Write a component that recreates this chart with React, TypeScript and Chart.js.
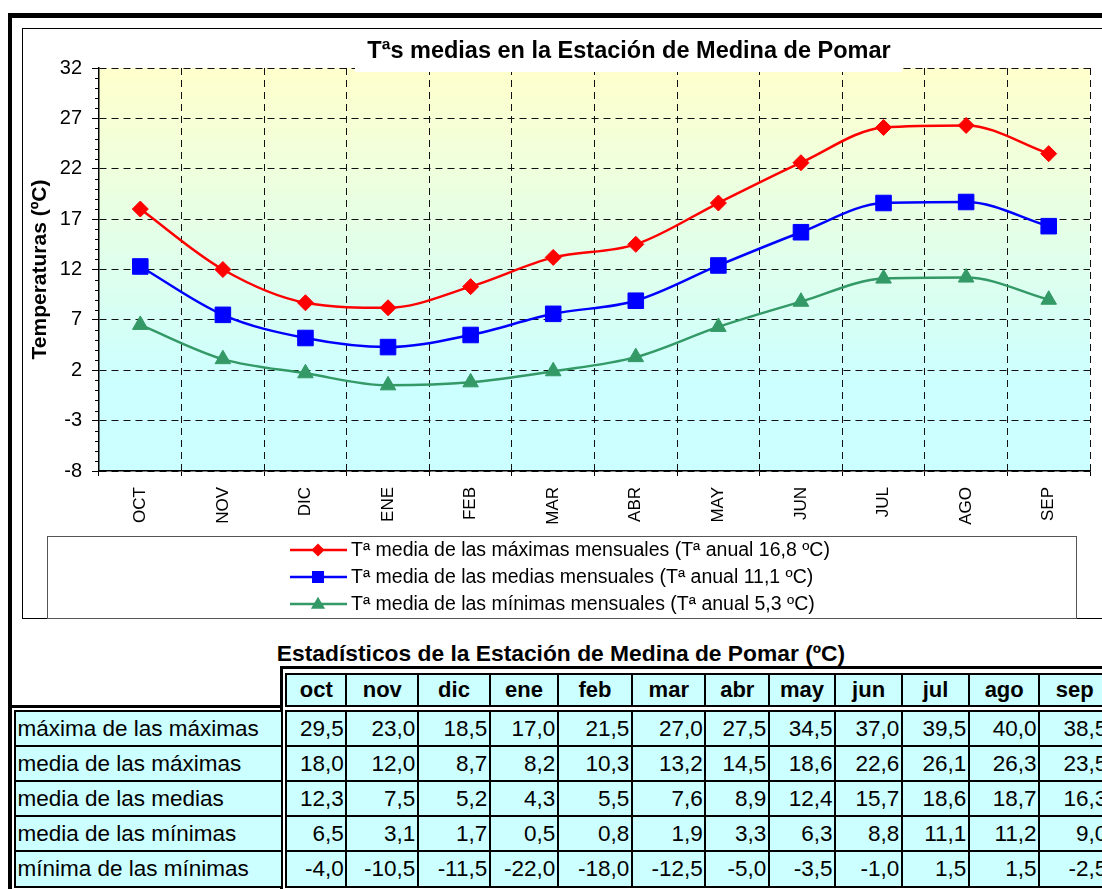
import React, { useEffect, useRef } from 'react';
import { Chart, registerables } from 'chart.js';

Chart.register(...registerables);

const FONT = "'Liberation Sans', Arial, Helvetica, sans-serif";

// ---------- data ----------
const categories = ['OCT', 'NOV', 'DIC', 'ENE', 'FEB', 'MAR', 'ABR', 'MAY', 'JUN', 'JUL', 'AGO', 'SEP'];
const tableMonths = ['oct', 'nov', 'dic', 'ene', 'feb', 'mar', 'abr', 'may', 'jun', 'jul', 'ago', 'sep'];

const maxOfMax = [29.5, 23.0, 18.5, 17.0, 21.5, 27.0, 27.5, 34.5, 37.0, 39.5, 40.0, 38.5];
const meanOfMax = [18.0, 12.0, 8.7, 8.2, 10.3, 13.2, 14.5, 18.6, 22.6, 26.1, 26.3, 23.5];
const meanOfMean = [12.3, 7.5, 5.2, 4.3, 5.5, 7.6, 8.9, 12.4, 15.7, 18.6, 18.7, 16.3];
const meanOfMin = [6.5, 3.1, 1.7, 0.5, 0.8, 1.9, 3.3, 6.3, 8.8, 11.1, 11.2, 9.0];
const minOfMin = [-4.0, -10.5, -11.5, -22.0, -18.0, -12.5, -5.0, -3.5, -1.0, 1.5, 1.5, -2.5];

const seriesLabels = [
  'Tª media de las máximas mensuales (Tª anual 16,8 ºC)',
  'Tª media de las medias mensuales (Tª anual 11,1 ºC)',
  'Tª media de las mínimas mensuales (Tª anual 5,3 ºC)',
];
const rowLabels = [
  'máxima de las máximas',
  'media de las máximas',
  'media de las medias',
  'media de las mínimas',
  'mínima de las mínimas',
];
const tableRows = [maxOfMax, meanOfMax, meanOfMean, meanOfMin, minOfMin];

const yMin = -8;
const yMax = 32;
const yStep = 5;

const chartTitle = 'Tªs medias en la Estación de Medina de Pomar';
const yTitle = 'Temperaturas (ºC)';
const tableTitle = 'Estadísticos de la Estación de Medina de Pomar (ºC)';

// ---------- styling / layout ----------
const seriesColors = ['#FF0000', '#0000FF', '#339966'];
const seriesStyles = ['rectRot', 'rect', 'triangle'];
const seriesRadius = [8, 11, 9];
const legendMarker = [6.5, 6, 7.5];

const CANVAS_W = 1079;
const CANVAS_H = 590;

const fmt = (v: number) => v.toFixed(1).replace('.', ',');

function drawMarker(ctx: CanvasRenderingContext2D, style: string, x: number, y: number, s: number, color: string) {
  ctx.save();
  ctx.fillStyle = color;
  ctx.beginPath();
  if (style === 'rectRot') {
    ctx.moveTo(x - s, y);
    ctx.lineTo(x, y - s);
    ctx.lineTo(x + s, y);
    ctx.lineTo(x, y + s);
    ctx.closePath();
  } else if (style === 'rect') {
    ctx.rect(x - s, y - s, 2 * s, 2 * s);
  } else {
    const h = s * 1.6;
    ctx.moveTo(x, y - h * 0.6);
    ctx.lineTo(x + s * 0.95, y + h * 0.4);
    ctx.lineTo(x - s * 0.95, y + h * 0.4);
    ctx.closePath();
  }
  ctx.fill();
  ctx.restore();
}

const bgPlugin = {
  id: 'plotBg',
  beforeDraw(chart: any) {
    const { ctx, chartArea: a } = chart;
    const g = ctx.createLinearGradient(0, a.top, 0, a.bottom);
    g.addColorStop(0, '#FFFFCC');
    g.addColorStop(0.78, '#CCFFFF');
    g.addColorStop(1, '#CCFFFF');
    ctx.save();
    ctx.fillStyle = g;
    ctx.fillRect(a.left, a.top, a.right - a.left, a.bottom - a.top);
    ctx.restore();
  },
};

const minorTickPlugin = {
  id: 'minorTicks',
  afterDraw(chart: any) {
    const { ctx, chartArea: a } = chart;
    const ys = chart.scales.y;
    ctx.save();
    ctx.strokeStyle = '#000';
    ctx.lineWidth = 1;
    ctx.beginPath();
    for (let v = yMin; v <= yMax; v++) {
      if ((v - yMin) % yStep === 0) continue;
      const py = Math.round(ys.getPixelForValue(v)) + 0.5;
      ctx.moveTo(a.left - 4, py);
      ctx.lineTo(a.left, py);
    }
    ctx.stroke();
    ctx.restore();
  },
};

const titlePlugin = {
  id: 'boxTitle',
  afterDraw(chart: any) {
    const { ctx } = chart;
    ctx.save();
    ctx.fillStyle = '#FFFFFF';
    ctx.fillRect(332, 0, 547, 43);
    ctx.fillStyle = '#000';
    ctx.font = `bold 23.5px ${FONT}`;
    ctx.textAlign = 'center';
    ctx.textBaseline = 'alphabetic';
    ctx.fillText(chartTitle, 606, 28.5);
    ctx.restore();
  },
};

const legendPlugin = {
  id: 'lineLegend',
  afterDraw(chart: any) {
    const { ctx } = chart;
    ctx.save();
    ctx.strokeStyle = '#555';
    ctx.lineWidth = 1;
    ctx.strokeRect(24.5, 507.5, 1029, 82);
    const rows = [521, 548, 575];
    chart.data.datasets.forEach((ds: any, i: number) => {
      const y = rows[i];
      ctx.strokeStyle = ds.borderColor;
      ctx.lineWidth = 2.5;
      ctx.beginPath();
      ctx.moveTo(267, y);
      ctx.lineTo(324, y);
      ctx.stroke();
      drawMarker(ctx, ds.pointStyle, 295, y, legendMarker[i], ds.borderColor);
      ctx.fillStyle = '#000';
      ctx.font = `19.5px ${FONT}`;
      ctx.textAlign = 'left';
      ctx.textBaseline = 'middle';
      ctx.fillText(ds.label, 328, y + 1);
    });
    ctx.restore();
  },
};

function TempChart() {
  const ref = useRef<HTMLCanvasElement | null>(null);
  useEffect(() => {
    if (!ref.current) return;
    const series = [meanOfMax, meanOfMean, meanOfMin];
    const chart = new Chart(ref.current, {
      type: 'line',
      data: {
        labels: categories,
        datasets: series.map((d, i) => ({
          label: seriesLabels[i],
          data: d,
          borderColor: seriesColors[i],
          backgroundColor: seriesColors[i],
          pointBackgroundColor: seriesColors[i],
          pointBorderColor: seriesColors[i],
          pointStyle: seriesStyles[i],
          pointRadius: seriesRadius[i],
          pointBorderWidth: 1,
          borderWidth: 2.5,
          cubicInterpolationMode: 'monotone',
          fill: false,
        })),
      },
      options: {
        responsive: false,
        animation: false,
        events: [],
        layout: { padding: { top: 39, right: 5, left: 0, bottom: 0 } },
        plugins: { legend: { display: false }, tooltip: { enabled: false }, title: { display: false } },
        scales: {
          x: {
            type: 'category',
            offset: true,
            afterFit: (s: any) => { s.height = CANVAS_H - 442; },
            grid: {
              offset: true,
              color: '#111',
              lineWidth: 1,
              tickLength: 5,
              tickColor: '#000',
              tickBorderDash: [],
            },
            border: { display: true, color: '#000', width: 1.5, dash: [7, 5] },
            ticks: {
              autoSkip: false,
              minRotation: 90,
              maxRotation: 90,
              padding: 11,
              color: '#000',
              font: { family: FONT, size: 17 },
            },
          },
          y: {
            min: yMin,
            max: yMax,
            afterFit: (s: any) => { s.width = 76; },
            grid: {
              color: '#111',
              lineWidth: 1,
              tickLength: 7,
              tickColor: '#000',
              tickBorderDash: [],
            },
            border: { display: true, color: '#000', width: 1.5, dash: [7, 5] },
            ticks: {
              stepSize: yStep,
              padding: 10,
              color: '#000',
              font: { family: FONT, size: 20 },
            },
            title: {
              display: true,
              text: yTitle,
              color: '#000',
              font: { family: FONT, size: 21, weight: 'bold' },
              padding: { top: 5, bottom: 0 },
            },
          },
        },
      } as any,
      plugins: [bgPlugin, minorTickPlugin, titlePlugin, legendPlugin],
    });
    return () => chart.destroy();
  }, []);
  return (
    <canvas
      ref={ref}
      width={CANVAS_W}
      height={CANVAS_H}
      style={{ position: 'absolute', left: 23, top: 29, width: CANVAS_W, height: CANVAS_H }}
    />
  );
}

const B = 2.5;
const colEdges = [286.2, 346.5, 418, 490, 558, 632, 705.6, 769, 835.2, 902, 969, 1039.4, 1110];
const headerEdges = [673.8, 706.2];
const rowEdges = [711.3, 746.3, 781.3, 816.3, 851.3, 886.3];
const labelEdges = [14.75, 281.6];

function Cell(props: { x1: number; x2: number; y1: number; y2: number; align: string; bold?: boolean; size: number; text: string }) {
  const { x1, x2, y1, y2, align, bold, size, text } = props;
  return (
    <div
      style={{
        position: 'absolute',
        left: x1 - B / 2,
        top: y1 - B / 2,
        width: x2 - x1 + B,
        height: y2 - y1 + B,
        border: `${B}px solid #000`,
        boxSizing: 'border-box',
        background: '#CCFFFF',
        display: 'flex',
        alignItems: 'center',
        justifyContent: align,
        paddingLeft: align === 'flex-start' ? 2 : 0,
        paddingRight: align === 'flex-end' ? 2 : 0,
        paddingTop: 1,
        fontSize: size,
        fontWeight: bold ? 'bold' : 'normal',
        color: '#000',
        whiteSpace: 'nowrap',
        overflow: 'hidden',
        lineHeight: 1,
      }}
    >
      {text}
    </div>
  );
}

function Bar(props: { left: number; top: number; width: number; height: number }) {
  return <div style={{ position: 'absolute', background: '#000', ...props }} />;
}

export default function App() {
  return (
    <div
      style={{
        position: 'absolute',
        left: 0,
        top: 0,
        width: 1102,
        height: 889,
        overflow: 'hidden',
        background: '#fff',
        fontFamily: FONT,
      }}
    >
      {/* outer thick frame */}
      <div
        style={{
          position: 'absolute',
          left: 8,
          top: 13,
          width: 1300,
          height: 1000,
          borderLeft: '4.5px solid #000',
          borderTop: '5px solid #000',
          boxSizing: 'border-box',
        }}
      />
      {/* chart box */}
      <div
        style={{
          position: 'absolute',
          left: 22,
          top: 28,
          width: 1300,
          height: 591,
          border: '1px solid #000',
          boxSizing: 'border-box',
          background: '#fff',
        }}
      />
      <TempChart />

      {/* table title */}
      <div
        style={{
          position: 'absolute',
          left: 200,
          top: 640,
          width: 722,
          textAlign: 'center',
          fontWeight: 'bold',
          fontSize: 22.8,
          lineHeight: '26px',
          color: '#000',
          whiteSpace: 'nowrap',
        }}
      >
        {tableTitle}
      </div>

      {/* group borders */}
      <Bar left={280} top={666} width={3.3} height={300} />
      <Bar left={280} top={666} width={900} height={3} />
      <Bar left={8} top={705} width={275.3} height={3.3} />

      {/* header cells */}
      {tableMonths.map((m, i) => (
        <Cell
          key={'h' + m}
          x1={colEdges[i]}
          x2={colEdges[i + 1]}
          y1={headerEdges[0]}
          y2={headerEdges[1]}
          align="center"
          bold
          size={22}
          text={m}
        />
      ))}

      {/* row labels */}
      {rowLabels.map((lab, r) => (
        <Cell
          key={'l' + r}
          x1={labelEdges[0]}
          x2={labelEdges[1]}
          y1={rowEdges[r]}
          y2={rowEdges[r + 1]}
          align="flex-start"
          size={22.5}
          text={lab}
        />
      ))}

      {/* data cells */}
      {tableRows.map((row, r) =>
        row.map((v, c) => (
          <Cell
            key={`d${r}-${c}`}
            x1={colEdges[c]}
            x2={colEdges[c + 1]}
            y1={rowEdges[r]}
            y2={rowEdges[r + 1]}
            align="flex-end"
            size={22.5}
            text={fmt(v)}
          />
        ))
      )}
    </div>
  );
}
